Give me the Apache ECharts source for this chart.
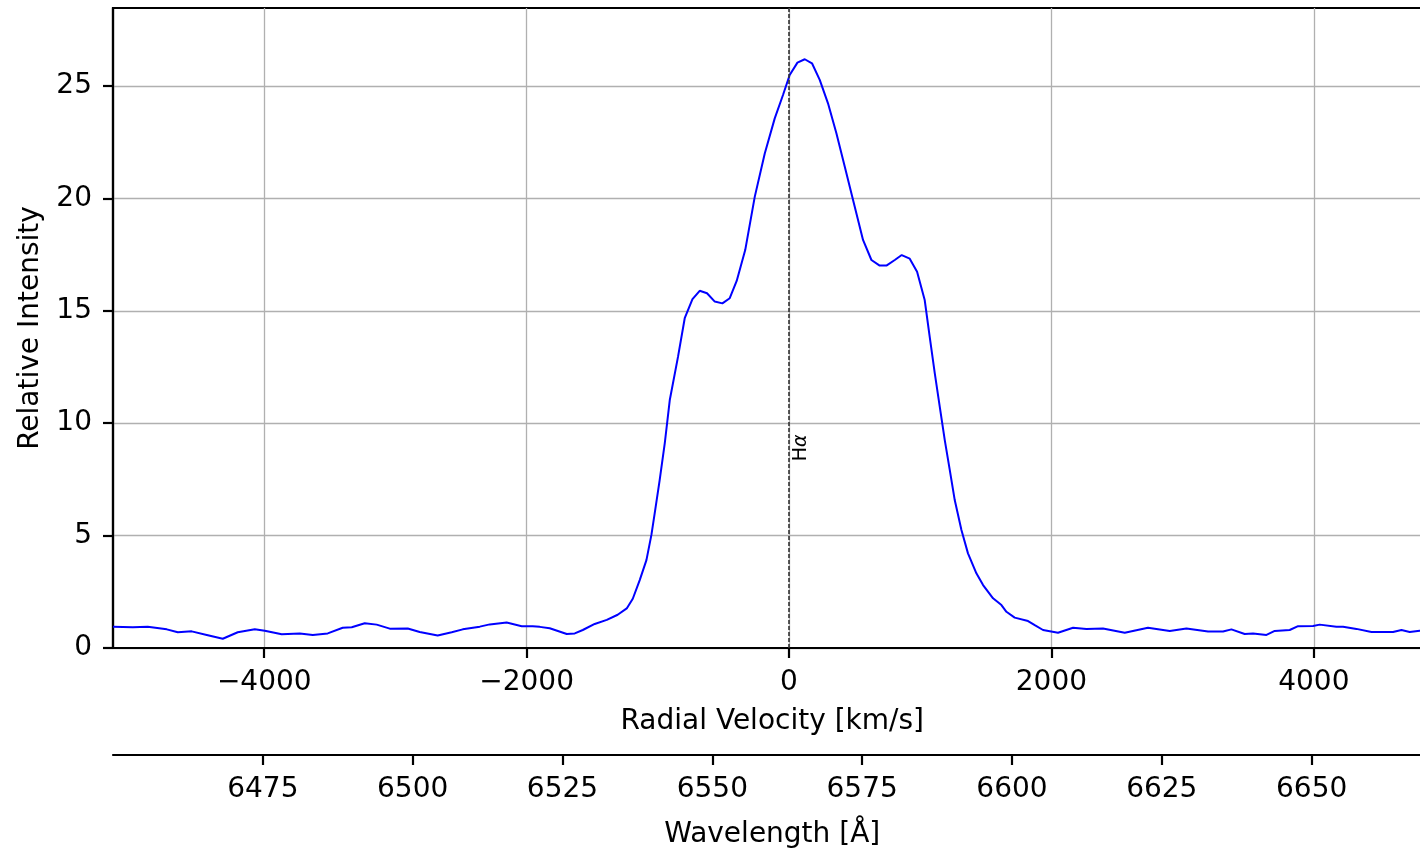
<!DOCTYPE html>
<html>
<head>
<meta charset="utf-8">
<title>H-alpha profile</title>
<script src="https://cdn.jsdelivr.net/npm/echarts@6/dist/echarts.min.js"></script>
<style>
  html, body { margin: 0; padding: 0; background: #fff; }
  #chart { width: 1420px; height: 850px; }
</style>
</head>
<body>
<div id="chart"></div>
<script>
// spectrum: radial velocity (km/s) and relative intensity
const velocity = [-5153, -5002, -4888, -4743, -4659, -4553, -4438, -4316, -4202, -4072,
  -3996, -3867, -3729, -3630, -3516, -3402, -3333, -3234, -3143, -3043,
  -2906, -2815, -2678, -2571, -2487, -2357, -2281, -2152, -2037, -1954,
  -1900, -1824, -1694, -1633, -1572, -1481, -1389, -1306, -1237, -1191,
  -1138, -1087, -1049, -1024, -986, -947, -909, -846, -795, -736,
  -681, -625, -566, -508, -452, -399, -334, -261, -185, -109,
  -46, 5, 64, 120, 175, 234, 297, 361, 425, 488,
  564, 628, 691, 745, 806, 859, 920, 976, 1034, 1072,
  1111, 1149, 1187, 1225, 1263, 1314, 1364, 1428, 1479, 1555,
  1619, 1657, 1720, 1822, 1873, 1936, 2050, 2165, 2267, 2393,
  2559, 2736, 2902, 3029, 3194, 3308, 3372, 3473, 3537, 3639,
  3702, 3816, 3880, 3994, 4045, 4172, 4223, 4325, 4439, 4604,
  4668, 4731, 4807, 4897]
const intensity = [0.95, 0.92, 0.95, 0.83, 0.70, 0.74, 0.58, 0.41, 0.70, 0.83,
  0.77, 0.61, 0.65, 0.58, 0.65, 0.90, 0.92, 1.10, 1.04, 0.86,
  0.87, 0.71, 0.56, 0.70, 0.83, 0.95, 1.05, 1.13, 0.97, 0.97,
  0.94, 0.88, 0.62, 0.65, 0.80, 1.07, 1.25, 1.48, 1.76, 2.19,
  3.02, 3.91, 5.03, 5.99, 7.47, 9.11, 11.03, 12.96, 14.67, 15.52,
  15.89, 15.78, 15.41, 15.33, 15.56, 16.33, 17.7, 20.08, 22.0, 23.56,
  24.6, 25.49, 26.04, 26.19, 26.01, 25.27, 24.23, 22.9, 21.41, 19.93,
  18.15, 17.26, 17.01, 17.02, 17.26, 17.48, 17.32, 16.74, 15.48, 13.85,
  12.22, 10.73, 9.25, 7.92, 6.58, 5.25, 4.21, 3.32, 2.80, 2.21,
  1.91, 1.61, 1.35, 1.20, 1.02, 0.80, 0.68, 0.90, 0.85, 0.87,
  0.68, 0.90, 0.76, 0.87, 0.73, 0.73, 0.83, 0.62, 0.64, 0.58,
  0.76, 0.80, 0.97, 0.98, 1.04, 0.95, 0.95, 0.85, 0.71, 0.71,
  0.80, 0.71, 0.77, 0.75]

const velocityTicks = [-4000, -2000, 0, 2000, 4000]
const wavelengthTicks = [6475, 6500, 6525, 6550, 6575, 6600, 6625, 6650]
const intensityTicks = [0, 5, 10, 15, 20, 25]

const restWavelength = 6562.8
const lightSpeed = 299792.458
const wavelengthMin = 6450
const wavelengthMax = 6670
// velocity axis spans the same range as the wavelength axis
const velocityMin = lightSpeed * (wavelengthMin - restWavelength) / restWavelength
const velocityMax = lightSpeed * (wavelengthMax - restWavelength) / restWavelength

const FONT = 'DejaVu Sans'

const axisLineStyle = { color: '#000', width: 2.2 }
const tickStyle = { show: true, length: 10, lineStyle: { color: '#000', width: 2.2 } }

const chartObj = echarts.init(document.getElementById('chart'))
chartObj.setOption({
  animation: false,
  textStyle: { fontFamily: FONT },
  grid: {
    left: 113,
    width: 1318.5, // the right part of the plot is cut off by the picture edge
    top: 8,
    bottom: 202,
    show: true,
    borderColor: '#000',
    borderWidth: 2.2,
    containLabel: false,
    outerBoundsMode: 'none'
  },
  xAxis: [
    {
      type: 'value',
      min: velocityMin,
      max: velocityMax,
      name: 'Radial Velocity [km/s]',
      nameLocation: 'middle',
      nameGap: 60,
      nameTextStyle: { fontSize: 28, color: '#000', fontFamily: FONT },
      axisLine: { onZero: false, lineStyle: axisLineStyle },
      axisTick: Object.assign({ customValues: velocityTicks }, tickStyle),
      axisLabel: {
        customValues: velocityTicks,
        fontSize: 28,
        color: '#000',
        margin: 21,
        fontFamily: FONT,
        formatter: v => String(v).replace('-', '\u2212')
      },
      splitLine: { show: true, lineStyle: { color: '#b0b0b0', width: 1.3 } }
    },
    {
      type: 'value',
      position: 'bottom',
      offset: 107,
      min: wavelengthMin,
      max: wavelengthMax,
      name: 'Wavelength [Å]',
      nameLocation: 'middle',
      nameGap: 66,
      nameTextStyle: { fontSize: 28, color: '#000', fontFamily: FONT },
      axisLine: { onZero: false, lineStyle: axisLineStyle },
      axisTick: Object.assign({ customValues: wavelengthTicks }, tickStyle),
      axisLabel: {
        customValues: wavelengthTicks,
        fontSize: 28,
        color: '#000',
        margin: 21,
        fontFamily: FONT,
        formatter: v => String(v)
      },
      splitLine: { show: false }
    }
  ],
  yAxis: {
    type: 'value',
    min: 0,
    max: 640 / 22.48,
    name: 'Relative Intensity',
    nameLocation: 'middle',
    nameGap: 68,
    nameTextStyle: { fontSize: 28, color: '#000', fontFamily: FONT },
    axisLine: { show: true, onZero: false, lineStyle: axisLineStyle },
    axisTick: Object.assign({ customValues: intensityTicks }, tickStyle),
    axisLabel: {
      customValues: intensityTicks,
      fontSize: 28,
      color: '#000',
      margin: 21,
      fontFamily: FONT,
      formatter: v => String(v)
    },
    splitLine: { show: true, lineStyle: { color: '#b0b0b0', width: 1.3 } }
  },
  series: [
    {
      type: 'line',
      xAxisIndex: 0,
      data: velocity.map((v, i) => [v, intensity[i]]),
      showSymbol: false,
      symbol: 'none',
      lineStyle: { color: '#0000ff', width: 2 },
      clip: true,
      markLine: {
        silent: true,
        symbol: 'none',
        label: { show: false },
        lineStyle: { color: '#333', width: 1.6, type: [4, 2] },
        data: [{ xAxis: 0 }]
      },
      markPoint: {
        silent: true,
        symbol: 'circle',
        symbolSize: 0,
        label: {
          show: true,
          rotate: 90,
          offset: [0, 12],
          formatter: '{h|H}{a|α}',
          rich: {
            h: { fontSize: 19, color: '#000', fontFamily: FONT },
            a: { fontSize: 19, color: '#000', fontFamily: FONT, fontStyle: 'italic' }
          }
        },
        data: [{ coord: [0, 8.9] }]
      }
    }
  ]
})
</script>
</body>
</html>
